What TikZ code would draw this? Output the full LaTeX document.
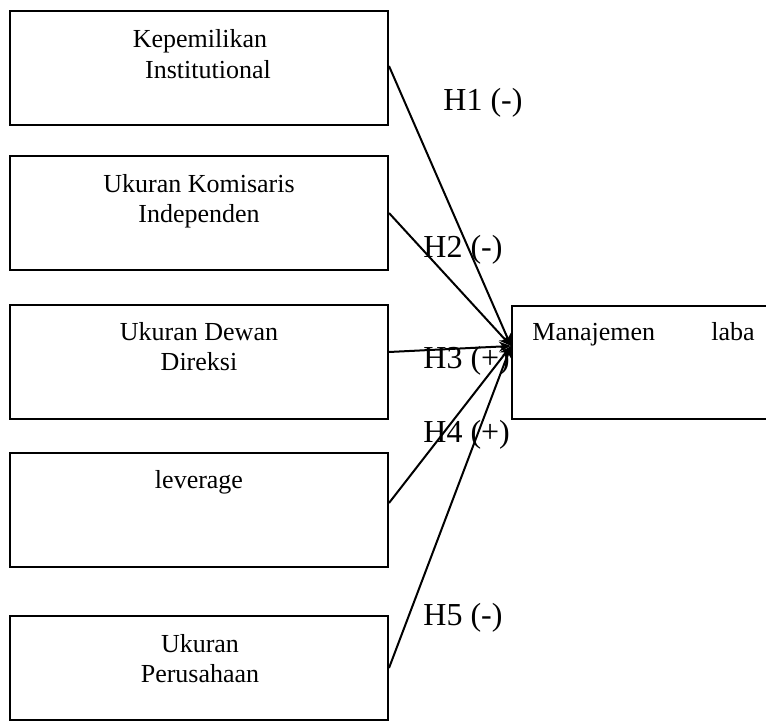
\documentclass[tikz,border=0pt]{standalone}
\usepackage{fontspec}
\setmainfont{Liberation Serif}
\usetikzlibrary{arrows.meta}
\begin{document}
\begin{tikzpicture}[x=0.5pt,y=-0.5pt,
  box/.style={draw,line width=1pt,rectangle,inner sep=0pt},
  txt/.style={anchor=base,inner sep=0pt,font=\fontsize{13pt}{15pt}\selectfont},
  hyp/.style={anchor=base west,inner sep=0pt,font=\fontsize{16pt}{18pt}\selectfont},
  link/.style={line width=1pt,-{Stealth[length=6pt,width=5pt]}}]
\clip (0,0) rectangle (766,728);
\fill[white] (0,0) rectangle (766,728);
% boxes
\node[box,minimum width=189pt,minimum height=57pt] (b1) at (199,68) {};
\node[box,minimum width=189pt,minimum height=57pt] (b2) at (199,213) {};
\node[box,minimum width=189pt,minimum height=57pt] (b3) at (199,362) {};
\node[box,minimum width=189pt,minimum height=57pt] (b4) at (199,510) {};
\node[box,minimum width=189pt,minimum height=52pt] (b5) at (199,668) {};
\node[box,minimum width=140pt,minimum height=56.5pt,anchor=north west] (m) at (511,305) {};
% texts
\node[txt] (t1a) at (200,47) {Kepemilikan};
\node[txt] (t1b) at (208,78) {Institutional};
\node[txt] (t2a) at (199,192) {Ukuran Komisaris};
\node[txt] (t2b) at (199,222) {Independen};
\node[txt] (t3a) at (199,340) {Ukuran Dewan};
\node[txt] (t3b) at (199,370) {Direksi};
\node[txt] (t4a) at (199,488) {leverage};
\node[txt] (t5a) at (200,652) {Ukuran};
\node[txt] (t5b) at (200,682) {Perusahaan};
\node[txt,anchor=base west] (ma) at (532,340) {Manajemen};
\node[txt,anchor=base west] (mb) at (711,340) {laba};
% target
\coordinate (tg) at (511,346);
% connectors
\draw[link] ([yshift=1pt]b1.east) -- (tg);
\draw[link] (b2.east) -- (tg);
\draw[link] ([yshift=5pt]b3.east) -- (tg);
\draw[link] ([yshift=3.5pt]b4.east) -- (tg);
\draw[link] (b5.east) -- (tg);
% hypothesis labels
\node[hyp] (h1) at (443,110) {H1 (-)};
\node[hyp] (h2) at (423,257) {H2 (-)};
\node[hyp] (h3) at (423,368) {H3 (+)};
\node[hyp] (h4) at (423,442) {H4 (+)};
\node[hyp] (h5) at (423,625) {H5 (-)};
\end{tikzpicture}
\end{document}
